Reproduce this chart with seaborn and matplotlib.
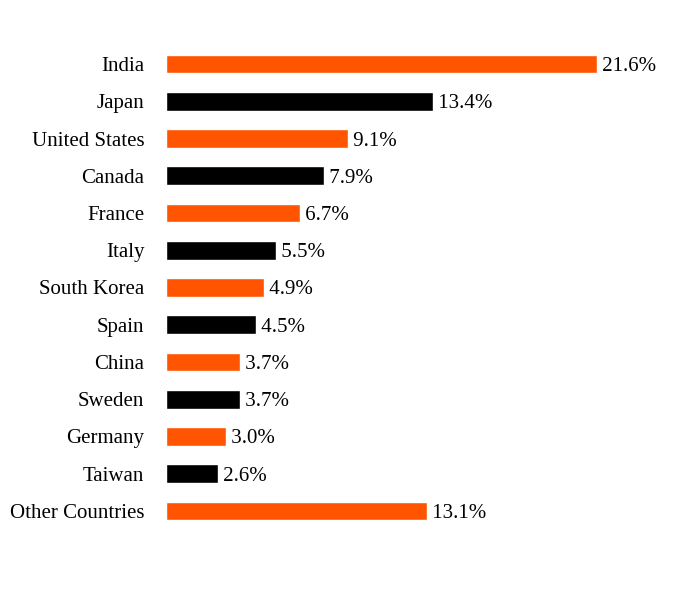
import matplotlib
matplotlib.use("Agg")
import matplotlib.pyplot as plt
import seaborn as sns
import pandas as pd

countries = ["India", "Japan", "United States", "Canada", "France", "Italy",
             "South Korea", "Spain", "China", "Sweden", "Germany", "Taiwan",
             "Other Countries"]
shares = [21.6, 13.4, 9.1, 7.9, 6.7, 5.5, 4.9, 4.5, 3.7, 3.7, 3.0, 2.6, 13.1]
colors = ["#FF5500" if i % 2 == 0 else "#000000" for i in range(len(countries))]

sns.set_theme(style="white")
plt.rcParams["font.family"] = ["Liberation Serif", "DejaVu Serif"]

df = pd.DataFrame({"country": countries, "share": shares})

fig = plt.figure(figsize=(6.96, 6.12), dpi=100)
ax = fig.add_axes([166/696, 1 - 529.6/612, 499/696, (529.6 - 45.4)/612])
sns.barplot(data=df, x="share", y="country", hue="country", palette=colors,
            legend=False, width=0.5, ax=ax, saturation=1)
ax.set_xlim(0, 25)
ax.set_ylim(12.5, -0.5)
for i, v in enumerate(shares):
    ax.text(v, i, f" {v:.1f}%", va="center_baseline", ha="left", fontsize=15, color="black")
ax.set_xlabel("")
ax.set_ylabel("")
ax.set_xticks([])
ax.tick_params(axis="y", length=0, pad=15.5, labelsize=15, labelcolor="black")
for lbl in ax.get_yticklabels():
    lbl.set_verticalalignment("center_baseline")
for s in ax.spines.values():
    s.set_visible(False)
fig.savefig("out.png", dpi=100)
